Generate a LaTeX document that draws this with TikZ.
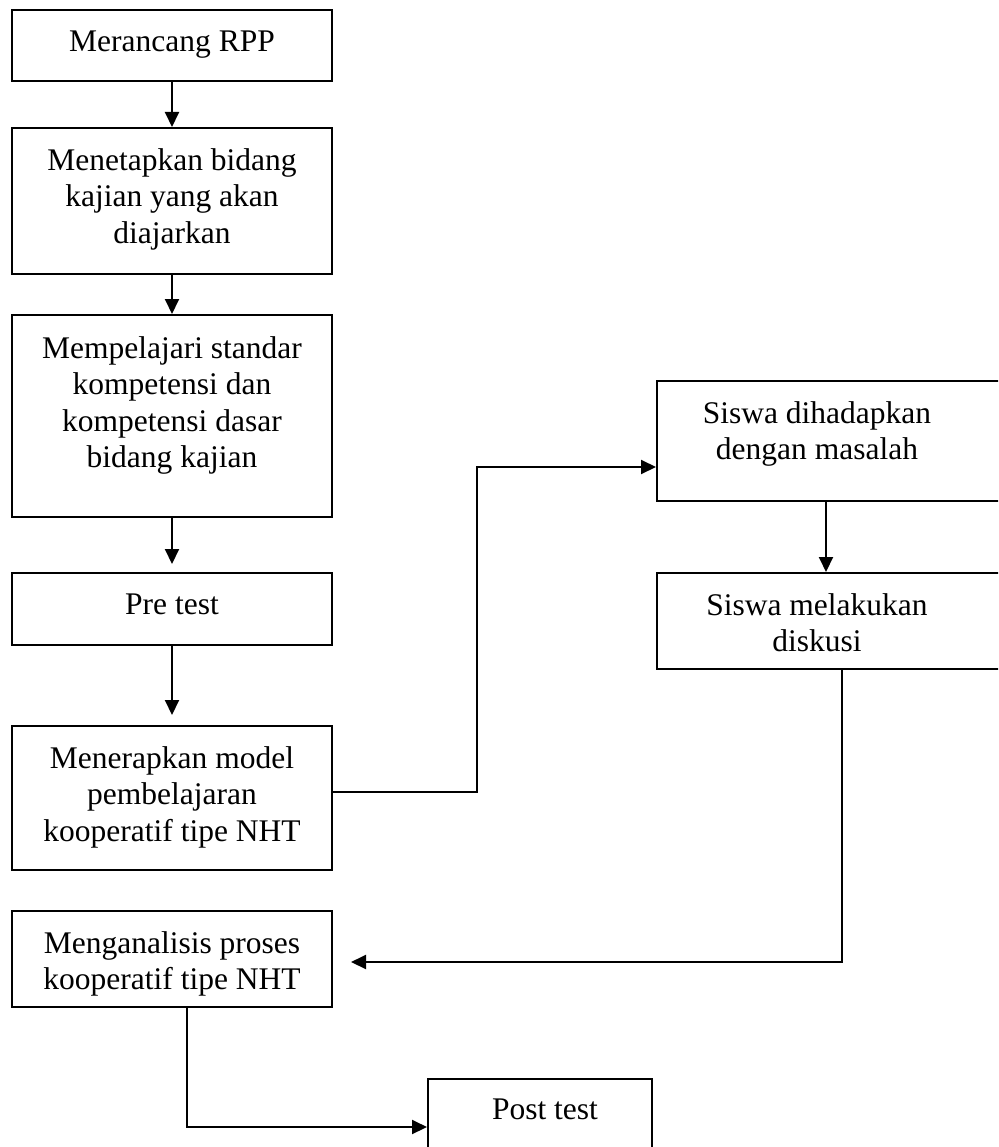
\documentclass[tikz,border=0pt]{standalone}
\usepackage{fontspec}
\setmainfont{Liberation Serif}
\usetikzlibrary{arrows.meta}
\begin{document}
\begin{tikzpicture}[x=1pt,y=-1pt,
  box/.style={draw, line width=2pt, inner sep=0pt},
  txt/.style={anchor=north, align=center, inner sep=0pt, font=\fontsize{31.5}{36.5}\selectfont},
  conn/.style={line width=2pt, -{Triangle[length=15pt,width=14pt]}}]
\useasboundingbox (0,0) rectangle (998,1147);
\clip (0,0) rectangle (998,1147);
% boxes
\node[box, minimum width=320pt, minimum height=71pt]  (b1) at (172,45.5) {};
\node[box, minimum width=320pt, minimum height=146pt] (b2) at (172,201) {};
\node[box, minimum width=320pt, minimum height=202pt] (b3) at (172,416) {};
\node[box, minimum width=320pt, minimum height=72pt]  (b4) at (172,609) {};
\node[box, minimum width=320pt, minimum height=144pt] (b5) at (172,798) {};
\node[box, minimum width=353pt, minimum height=120pt] (b6) at (833.5,441) {};
\node[box, minimum width=353pt, minimum height=96pt]  (b7) at (833.5,621) {};
\node[box, minimum width=320pt, minimum height=96pt]  (b8) at (172,959) {};
\node[box, minimum width=224pt, minimum height=81pt]  (b9) at (540,1119.5) {};
% texts
\node[txt] (t1) at (172,31) {Merancang RPP};
\node[txt] (t2) at (172,148) {Menetapkan bidang\\kajian yang akan\\diajarkan};
\node[txt] (t3) at (172,336) {Mempelajari standar\\kompetensi dan\\kompetensi dasar\\bidang kajian};
\node[txt] (t4) at (172,594) {Pre test};
\node[txt] (t5) at (172,746) {Menerapkan model\\pembelajaran\\kooperatif tipe NHT};
\node[txt] (t6) at (817,401) {Siswa dihadapkan\\dengan masalah};
\node[txt] (t7) at (817,593) {Siswa melakukan\\diskusi};
\node[txt] (t8) at (172,931) {Menganalisis proses\\kooperatif tipe NHT};
\node[txt] (t9) at (545,1099) {Post test};
% connectors
\draw[conn] (b1.south) -- (b2.north);
\draw[conn] (b2.south) -- (b3.north);
\draw[conn] (b3.south) -- ([yshift=8pt]b4.north);
\draw[conn] (b4.south) -- ([yshift=10pt]b5.north);
\draw[conn] ([yshift=6pt]b5.east) -- ++(144,0) |- ([yshift=-26pt]b6.west);
\draw[conn] ([xshift=-7.5pt]b6.south) -- ([xshift=-7.5pt]b7.north);
\draw[conn] ([xshift=8.5pt]b7.south) |- ([xshift=18pt,yshift=-3pt]b8.east);
\draw[conn] ([xshift=15pt]b8.south) |- ([yshift=-7.5pt]b9.west);
\end{tikzpicture}
\end{document}
